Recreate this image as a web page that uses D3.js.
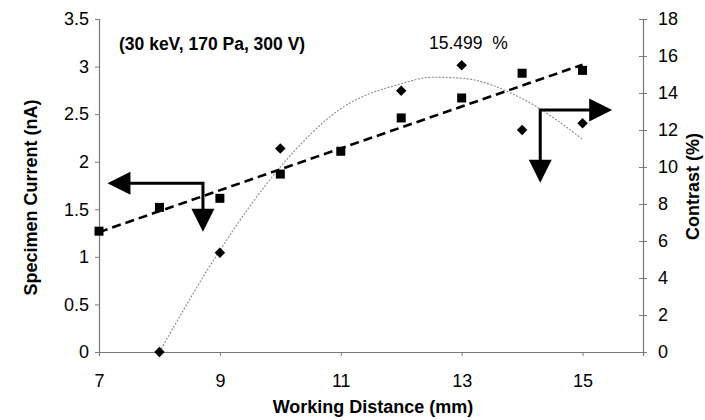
<!DOCTYPE html>
<html>
<head>
<meta charset="utf-8">
<script src="https://d3js.org/d3.v7.min.js"></script>
<style>
  body { margin: 0; background: #fff; }
  text { font-family: Arial, "Liberation Sans", sans-serif; fill: #000; }
</style>
</head>
<body>
<div id="chart"></div>
<script>
// working distance (mm)
const distance = [7, 8, 9, 10, 11, 12, 13, 14, 15];
// specimen current (nA), squares, left axis
const current = [1.27, 1.52, 1.615, 1.87, 2.11, 2.46, 2.67, 2.93, 2.96];
// contrast (%), diamonds, right axis
const contrastX = [8, 9, 10, 12, 13, 14, 15];
const contrast = [0, 5.37, 11.0, 14.12, 15.5, 12.0, 12.36];

// trend lines
const currentTrendX = [7, 15];
const currentTrendY = [1.26, 3.02];
const contrastTrendX = [8, 9, 10, 11, 12, 12.5, 13, 14, 15];
const contrastTrendY = [0, 5.5, 10.0, 13.15, 14.5, 14.85, 14.8, 13.7, 11.5];

const xTicks = [7, 9, 11, 13, 15];
const leftTicks = [0, 0.5, 1, 1.5, 2, 2.5, 3, 3.5];
const rightTicks = [0, 2, 4, 6, 8, 10, 12, 14, 16, 18];

const W = 705, H = 420;
const margin = {top: 19, right: 62, bottom: 68, left: 99};

const svg = d3.select("#chart").append("svg")
  .attr("width", W).attr("height", H);

const x = d3.scaleLinear().domain([7, 16]).range([margin.left, W - margin.right]);
const yL = d3.scaleLinear().domain([0, 3.5]).range([H - margin.bottom, margin.top]);
const yR = d3.scaleLinear().domain([0, 18]).range([H - margin.bottom, margin.top]);

const axisColor = "#7a7a7a";

// left axis
const gL = svg.append("g").attr("transform", `translate(${margin.left},0)`)
  .call(d3.axisLeft(yL).tickValues(leftTicks).tickSize(4).tickPadding(6)
    .tickFormat(d3.format("")));
gL.select(".domain").attr("stroke", axisColor);
gL.selectAll(".tick line").attr("stroke", axisColor);
gL.selectAll(".tick text").style("font-size", "18px");

// right axis
const gR = svg.append("g").attr("transform", `translate(${W - margin.right},0)`)
  .call(d3.axisRight(yR).tickValues(rightTicks).tickSize(4).tickPadding(11));
gR.select(".domain").attr("stroke", axisColor);
gR.selectAll(".tick line").attr("stroke", axisColor).attr("x1", -4);
gR.selectAll(".tick text").style("font-size", "18px");

// bottom axis
const gB = svg.append("g").attr("transform", `translate(0,${H - margin.bottom})`)
  .call(d3.axisBottom(x).tickValues(xTicks).tickSize(4).tickPadding(18));
gB.select(".domain").attr("stroke", axisColor);
gB.selectAll(".tick line").attr("stroke", axisColor);
gB.selectAll(".tick text").style("font-size", "18px");
svg.selectAll(".domain").attr("stroke-width", 1.2);

// axis titles
svg.append("text")
  .attr("transform", `translate(37,${(margin.top + H - margin.bottom) / 2 + 12}) rotate(-90)`)
  .attr("text-anchor", "middle")
  .style("font-size", "18px").style("font-weight", "bold")
  .text("Specimen Current (nA)");

svg.append("text")
  .attr("transform", `translate(699,${(margin.top + H - margin.bottom) / 2 + 1}) rotate(-90)`)
  .attr("text-anchor", "middle")
  .style("font-size", "18px").style("font-weight", "bold")
  .text("Contrast (%)");

svg.append("text")
  .attr("x", (margin.left + W - margin.right) / 2 + 2)
  .attr("y", 413)
  .attr("text-anchor", "middle")
  .style("font-size", "18px").style("font-weight", "bold")
  .text("Working Distance (mm)");

// annotations
svg.append("text")
  .attr("x", 119).attr("y", 50)
  .style("font-size", "17.5px").style("font-weight", "bold")
  .text("(30 keV, 170 Pa, 300 V)");

svg.append("text")
  .attr("x", 429).attr("y", 49)
  .style("font-size", "17.5px").style("white-space", "pre")
  .text("15.499  %");

// contrast trend (gray dotted)
const trendC = contrastTrendX.map((d, i) => [d, contrastTrendY[i]]);
svg.append("path")
  .datum(trendC)
  .attr("fill", "none")
  .attr("stroke", "#8a8a8a")
  .attr("stroke-width", 1.1)
  .attr("stroke-dasharray", "2,1.5")
  .attr("d", d3.line().x(d => x(d[0])).y(d => yR(d[1])).curve(d3.curveMonotoneX));

// current trend (black dashed)
const trendI = currentTrendX.map((d, i) => [d, currentTrendY[i]]);
svg.append("path")
  .datum(trendI)
  .attr("fill", "none")
  .attr("stroke", "#000")
  .attr("stroke-width", 2.6)
  .attr("stroke-dasharray", "9,5")
  .attr("d", d3.line().x(d => x(d[0])).y(d => yL(d[1])));

// squares
svg.append("g").selectAll("rect")
  .data(distance.map((d, i) => [d, current[i]]))
  .join("rect")
  .attr("x", d => x(d[0]) - 4.5)
  .attr("y", d => yL(d[1]) - 4.5)
  .attr("width", 9).attr("height", 9)
  .attr("fill", "#000");

// diamonds
const diamond = d3.symbol().type(d3.symbolSquare).size(55);
svg.append("g").selectAll("path")
  .data(contrastX.map((d, i) => [d, contrast[i]]))
  .join("path")
  .attr("transform", d => `translate(${x(d[0])},${yR(d[1])}) rotate(45)`)
  .attr("d", diamond)
  .attr("fill", "#000");

// axis pointer arrows (data units, left-axis scale)
const arrows = [
  {cx: 8.72, cy: 1.773, hx: 7.14, vy: 1.264},
  {cx: 14.30, cy: 2.544, hx: 15.49, vy: 1.78}
];
const headLen = 23, headHalf = 11.5;
arrows.forEach(a => {
  const px = x(a.cx), py = yL(a.cy), tx = x(a.hx), ty = yL(a.vy);
  const dir = tx < px ? -1 : 1;
  svg.append("path")
    .attr("d", `M${tx - dir * headLen + dir * 2},${py}H${px}V${ty - headLen + 2}`)
    .attr("fill", "none").attr("stroke", "#000").attr("stroke-width", 3)
    .attr("stroke-linejoin", "miter");
  svg.append("path")
    .attr("d", `M${tx},${py}L${tx - dir * headLen},${py - headHalf}L${tx - dir * headLen},${py + headHalf}Z`)
    .attr("fill", "#000");
  svg.append("path")
    .attr("d", `M${px},${ty}L${px - headHalf},${ty - headLen}L${px + headHalf},${ty - headLen}Z`)
    .attr("fill", "#000");
});
</script>
</body>
</html>
